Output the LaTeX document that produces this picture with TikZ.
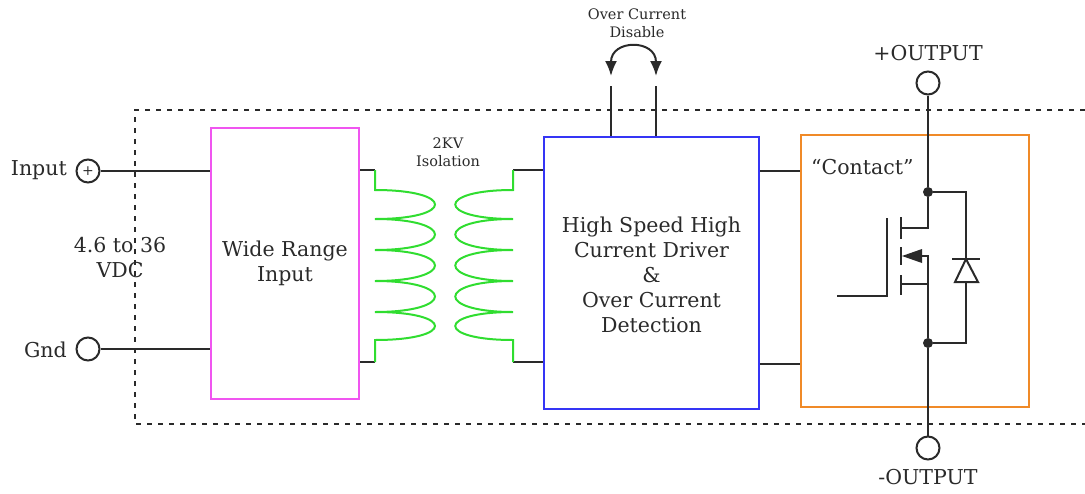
\documentclass[tikz,border=0pt]{standalone}
\usepackage{fontspec}
\setmainfont{DejaVu Serif}
\usetikzlibrary{arrows.meta}
\definecolor{mag}{HTML}{F055F0}
\definecolor{blu}{HTML}{3535F5}
\definecolor{org}{HTML}{F08A28}
\definecolor{grn}{HTML}{30DD30}
\definecolor{ink}{HTML}{2A2A2A}
\newcommand\bigf{\fontsize{20.5}{25}\selectfont}
\newcommand\smallf{\fontsize{14.5}{18}\selectfont}
\begin{document}
\begin{tikzpicture}[x=1pt,y=-1pt,
  every node/.style={text=ink},
  wire/.style={ink, line width=2pt},
  coil/.style={grn, line width=2pt},
  blockbox/.style={draw, line width=2pt, anchor=north west, align=center, font=\bigf},
  term/.style={circle, draw=ink, line width=2pt, minimum size=23pt, inner sep=0pt},
  lbl/.style={font=\bigf, align=center, inner sep=0pt},
  slbl/.style={font=\smallf, align=center, inner sep=0pt},
  dot/.style={circle, fill=ink, minimum size=10pt, inner sep=0pt}]
\useasboundingbox (0,0) rectangle (1085,493);

% isolation boundary
\draw[ink, line width=2pt, dash pattern=on 5pt off 6pt] (1085,110) -| (135,424) -- (1085,424);

% blocks
\node[blockbox, draw=mag, minimum width=148pt, minimum height=271pt] (wr) at (210,127) {};
\node[lbl] at (wr.center) {Wide Range\\Input};
\node[blockbox, draw=blu, minimum width=215pt, minimum height=272pt] (drv) at (543,136) {};
\node[lbl] at ([yshift=-2pt]drv.center) {High Speed High\\Current Driver\\\&\\Over Current\\Detection};
\node[blockbox, draw=org, minimum width=228pt, minimum height=272pt] (con) at (800,134) {};
\node[lbl, anchor=west] (contact) at (811,167) {“Contact”};

% input terminals
\node[term, font=\fontsize{14}{14}\selectfont] (inp) at (88,171) {+};
\node[term] (gnd) at (88,349) {};
\node[lbl, anchor=east] at (67,170) {Input};
\node[lbl, anchor=east] at (67,350) {Gnd};
\node[lbl] at (120,258) {4.6 to 36\\VDC};
\draw[wire] (inp.east) -- (inp.east -| wr.west);
\draw[wire] (gnd.east) -- (gnd.east -| wr.west);

% transformer
\coordinate (la) at (375,170);
\coordinate (lb) at (375,362);
\coordinate (ra) at (513,170);
\coordinate (rb) at (513,362);
\draw[wire] (la -| wr.east) -- (la);
\draw[wire] (lb -| wr.east) -- (lb);
\draw[wire] (ra) -- (ra -| drv.west);
\draw[wire] (rb) -- (rb -| drv.west);
\draw[coil] (la) -- (375,190)
  .. controls (455,190) and (455,219) .. (375,219)
  .. controls (455,219) and (455,250) .. (375,250)
  .. controls (455,250) and (455,281) .. (375,281)
  .. controls (455,281) and (455,312) .. (375,312)
  .. controls (455,312) and (455,340) .. (375,340) -- (lb);
\draw[coil] (ra) -- (513,190)
  .. controls (436,190) and (436,219) .. (513,219)
  .. controls (436,219) and (436,250) .. (513,250)
  .. controls (436,250) and (436,281) .. (513,281)
  .. controls (436,281) and (436,312) .. (513,312)
  .. controls (436,312) and (436,340) .. (513,340) -- (rb);
\node[slbl] at (448,152) {2KV\\Isolation};

% over current disable
\coordinate (oa) at (611,86);
\coordinate (ob) at (656,86);
\draw[wire] (oa) -- (oa |- drv.north);
\draw[wire] (ob) -- (ob |- drv.north);
\draw[wire, {Latex[length=15pt,width=12pt]}-{Latex[length=15pt,width=12pt]}] (611,76) .. controls (611,39) and (656,39) .. (656,76);
\node[slbl] at (637,23) {Over Current\\Disable};

% driver to contact
\draw[wire] (drv.east |- 0,171) -- (con.west |- 0,171);
\draw[wire] (drv.east |- 0,364) -- (con.west |- 0,364);

% output terminals
\node[term] (op) at (928,83) {};
\node[term] (om) at (928,448) {};
\node[lbl] at (928,53) {+OUTPUT};
\node[lbl] at (928,477) {-OUTPUT};
\node[dot] (j1) at (928,192) {};
\node[dot] (j2) at (928,343) {};
\draw[wire] (op.south) -- (j1);
\draw[wire] (j2) -- (om.north);

% MOSFET
\draw[wire] (j1) -- (928,228) -- (901,228);
\draw[wire] (901,217) -- (901,239);
\draw[wire] (901,247) -- (901,265);
\draw[wire] (901,275) -- (901,295);
\draw[wire] (887,218) -- (887,296) -- (837,296);
\fill[ink] (902,256) -- (922,249) -- (922,263) -- cycle;
\draw[wire] (921,256) -- (928,256) -- (j2);
\draw[wire] (901,284) -- (928,284);

% diode
\draw[wire] (j1) -- (966,192) -- (966,259);
\draw[wire] (952,259) -- (980,259);
\draw[wire, line join=miter] (966,259) -- (955,282) -- (978,282) -- cycle;
\draw[wire] (966,282) -- (966,343) -- (j2);
\end{tikzpicture}
\end{document}
